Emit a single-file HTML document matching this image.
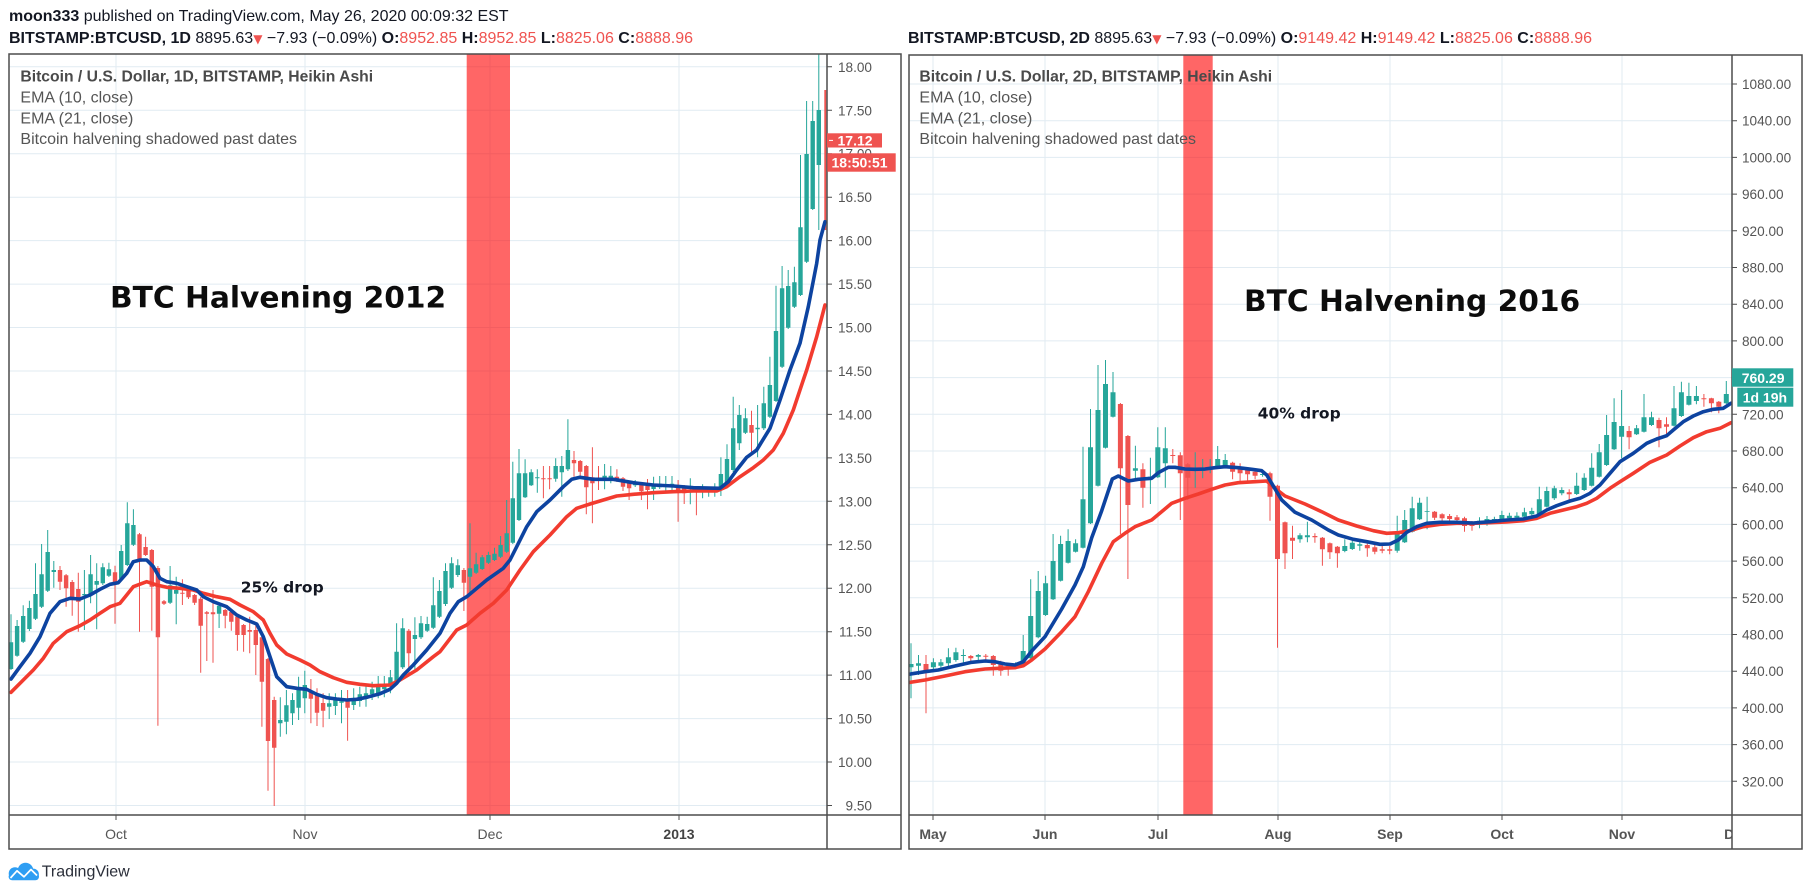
<!DOCTYPE html>
<html><head><meta charset="utf-8"><style>
html,body{margin:0;padding:0;background:#fff;}
body{width:1810px;height:895px;overflow:hidden;position:relative;}
svg{position:absolute;left:0;top:0;}
text{font-family:"Liberation Sans",Arial,sans-serif;}
</style></head><body>
<svg width="1810" height="895" viewBox="0 0 1810 895" xmlns="http://www.w3.org/2000/svg">
<defs>
<clipPath id="cl"><rect x="9.5" y="54.5" width="817" height="760.5"/></clipPath>
<clipPath id="cr"><rect x="909.5" y="55.5" width="822" height="759.5"/></clipPath>
<clipPath id="tr"><rect x="909" y="815" width="823" height="34"/></clipPath>
</defs>
<rect width="1810" height="895" fill="#fff"/>

<!-- header -->
<text x="9" y="21" font-size="16" fill="#131722"><tspan font-weight="bold">moon333</tspan> published on TradingView.com, May 26, 2020 00:09:32 EST</text>
<text x="9" y="43" font-size="16" fill="#131722"><tspan font-weight="bold">BITSTAMP:BTCUSD, 1D</tspan> 8895.63<tspan fill="#ef5350" font-family="DejaVu Sans" font-size="12">▼</tspan> −7.93 (−0.09%) <tspan font-weight="bold">O:</tspan><tspan fill="#ef5350">8952.85</tspan> <tspan font-weight="bold">H:</tspan><tspan fill="#ef5350">8952.85</tspan> <tspan font-weight="bold">L:</tspan><tspan fill="#ef5350">8825.06</tspan> <tspan font-weight="bold">C:</tspan><tspan fill="#ef5350">8888.96</tspan></text>
<text x="908" y="43" font-size="16" fill="#131722"><tspan font-weight="bold">BITSTAMP:BTCUSD, 2D</tspan> 8895.63<tspan fill="#ef5350" font-family="DejaVu Sans" font-size="12">▼</tspan> −7.93 (−0.09%) <tspan font-weight="bold">O:</tspan><tspan fill="#ef5350">9149.42</tspan> <tspan font-weight="bold">H:</tspan><tspan fill="#ef5350">9149.42</tspan> <tspan font-weight="bold">L:</tspan><tspan fill="#ef5350">8825.06</tspan> <tspan font-weight="bold">C:</tspan><tspan fill="#ef5350">8888.96</tspan></text>

<!-- ===== LEFT CHART ===== -->
<g stroke="#e1ebf2" stroke-width="1" fill="none">
<path d="M9 805.5H827M9 762H827M9 718.6H827M9 675.1H827M9 631.7H827M9 588.2H827M9 544.8H827M9 501.3H827M9 457.9H827M9 414.4H827M9 371H827M9 327.5H827M9 284.1H827M9 240.6H827M9 197.2H827M9 153.7H827M9 110.3H827M9 66.8H827"/>
<path d="M116 54V815M305 54V815M490 54V815M679 54V815"/>
</g>
<rect x="466.7" y="54" width="43.3" height="761" fill="rgb(255,0,0)" fill-opacity="0.6"/>

<g clip-path="url(#cl)" fill="none">
<path stroke="#26a69a" stroke-width="1" d="M11 614.3V670M17.1 620V656.7M23.2 605.3V643M29.4 600.7V631M35.5 563.3V620M41.6 544V608M47.7 530V592M53.8 561V587.7M84.4 570V630M90.6 555V603.3M96.7 563.3V629.3M102.8 563.3V585M108.9 562.7V577M121.2 545V580M127.3 502.3V566M133.4 509.3V546M170.1 566V604M176.2 576.7V624.3M219.1 604V628M280.3 697.3V736.7M286.4 690V734.3M292.5 693.3V725M298.6 676.7V720M304.8 670.7V713.3M329.2 693.3V719M335.4 693.3V715M341.5 690V723.3M353.7 688.3V710M359.8 686.7V706.7M366 685.7V706.7M372.1 681.7V700M378.2 676V698.3M384.3 676V697.3M390.4 670V693.3M396.6 623.3V685M402.7 618.3V669M414.9 617.3V670M421 616V639M427.2 616.7V632M433.3 577.3V629M439.4 580V618M445.5 563.3V606M451.6 557.3V589M457.8 559.3V577M470 523.3V592.7M476.1 552.7V574M482.2 555V570M488.4 551.7V564M494.5 547.7V561M500.6 536V558M506.7 500V553M512.8 461.7V544M519 449V521M525.1 459.3V498M531.2 469.3V486M537.3 469.3V492.7M555.7 458.3V481.7M561.8 456V496.7M567.9 419.3V471M604.6 464V489.3M610.8 466V483.3M635.2 480V487M653.6 476.7V500M659.7 476V489M665.8 476V491.7M672 476V491.7M690.3 478.3V504.3M702.6 484.3V498.3M708.7 487V496.7M714.8 483.3V496.7M720.9 457.3V496M727 444.3V485M733.2 396.7V472M739.3 405V450M745.4 408.3V434M757.6 405V457.3M763.8 386.7V430M769.9 356.7V418M776 285.7V402M782.1 266V368M788.2 270V329M794.4 266.7V308M800.5 155V296M806.6 101V263M812.7 101V210M818.8 50V230"/>
<path stroke="#26a69a" stroke-width="4.4" d="M11 642.3V669M17.1 626V655.7M23.2 616V641.7M29.4 608V629M35.5 594V618.7M41.6 574.3V606.7M47.7 552V590.7M53.8 570V572M84.4 594V595.3M90.6 574.3V595M96.7 581V584.7M102.8 567.3V583.3M108.9 569.3V575.7M121.2 551V578.7M127.3 523.3V565M133.4 525V544.7M170.1 585.3V602.7M176.2 590V593.7M219.1 605.7V613.7M280.3 720V723.3M286.4 705.3V721.7M292.5 700V713.3M298.6 687.3V707.7M304.8 685V698.3M329.2 703.3V706.7M335.4 699.3V706M341.5 701.3V702.7M353.7 698.3V705M359.8 694.3V701M366 693.3V699M372.1 689.3V694.3M378.2 685.7V693.7M384.3 684V689.3M390.4 677.3V686.7M396.6 651.7V683.3M402.7 628.3V667.3M414.9 635V639M421 623.3V637.3M427.2 624V630.7M433.3 605.3V627.7M439.4 591V616.7M445.5 571V604M451.6 563.3V587.7M457.8 565.3V575M470 568.3V576.7M476.1 564.3V572.7M482.2 557.3V569M488.4 555V562.7M494.5 553.7V560M500.6 545V556.7M506.7 533.3V551.7M512.8 498.3V542.7M519 473.3V520M525.1 473.3V497.3M531.2 472.3V485.3M537.3 477.3V478.3M555.7 466V478.7M561.8 466V472.3M567.9 450V469.3M604.6 475.7V480.7M610.8 475.7V480M635.2 483.3V485.3M653.6 485.7V489M659.7 483.7V487.3M665.8 485V486.7M672 483.7V486M690.3 490V491M702.6 489V490.7M708.7 489V490.7M714.8 487.3V490M720.9 474V490M727 459V483.3M733.2 428.3V470M739.3 415V443.3M745.4 418.3V432.7M757.6 427.7V429.3M763.8 403.3V428.3M769.9 385V416.7M776 331V401M782.1 288.3V366.7M788.2 286V327.7M794.4 282.3V306.7M800.5 227.3V295M806.6 154V261.7M812.7 121V209M818.8 110V165"/>
<path stroke="#ef5350" stroke-width="1" d="M60 566V590M66.1 574V606.7M72.2 580V615.7M78.3 572.7V631.7M115 565.7V623.7M139.5 533V631.7M145.6 536.7V556M151.8 549V630.7M157.9 566V725.7M164 600V605M182.4 579.3V605M188.5 590V599M194.6 594V605M200.7 597V672.7M206.8 611V661M213 590V662.7M225.2 609V628.3M231.3 611V630.7M237.4 615V650.7M243.6 624V651.7M249.7 616.7V653.3M255.8 623.3V675M261.9 636V726.7M268 658V790.7M274.2 696.7V806M310.9 679V723.3M317 688.3V726M323.1 693.3V727.3M347.6 690V740.7M408.8 629V672.7M463.9 568V611M543.4 466V498.3M549.6 466V489.3M574 451V476.7M580.2 460V477.3M586.3 465V514.3M592.4 447.3V523.3M598.5 466V490M616.9 469.3V482M623 477V491M629.1 481V500M641.4 483V500M647.5 479V509.3M678.1 480V521.7M684.2 485V504M696.4 487.3V515.3M751.5 410.7V453.3"/>
<path stroke="#ef5350" stroke-width="4.4" d="M60 570V581.7M66.1 575.3V588.3M72.2 582V598M78.3 589V601.7M115 572.3V583.7M139.5 534.3V561.7M145.6 547V555M151.8 550V586.7M157.9 568V637.3M164 601.3V603.7M182.4 592.7V593.7M188.5 591V597.3M194.6 595V602.7M200.7 598.7V625.7M206.8 612.3V613.7M213 612.3V614.3M225.2 610V615.7M231.3 612V621.7M237.4 616.7V635M243.6 625V635M249.7 630V631.7M255.8 630V645M261.9 637.3V681.7M268 659V741M274.2 700V747.7M310.9 690.7V698.7M317 693.7V712.7M323.1 703V710.7M347.6 701V707.7M408.8 630.7V653.3M463.9 570V582.7M543.4 478.3V479.3M549.6 478.3V479.3M574 460V463.3M580.2 461V471.7M586.3 466V487.3M592.4 477.3V483.3M598.5 479.3V480.3M616.9 476.7V480.7M623 478.3V486.7M629.1 482V488.3M641.4 484V491.3M647.5 486V490M678.1 485.3V491M684.2 487.7V493.3M696.4 490V491M751.5 425V432.7"/>
<path stroke="#ef5350" stroke-width="2" d="M825.3 90V230"/>
<polyline stroke="#f23b2f" stroke-width="3.6" stroke-linejoin="round" stroke-linecap="round" points="11,692.3 23.3,680 33.3,670 43.3,658.3 53.3,643.3 66.7,631.7 80,625.7 90,620 100,613.3 110,606.7 120,603.3 126.7,595 133.3,586.7 146.7,581.7 156.7,585 166.7,587.3 180,588.3 193.3,590 203.3,593.3 216.7,596.7 230,599.3 240,605 253.3,611.7 263.3,620 270,633.3 276.7,645 286.7,654 300,660 310,665 320,671.7 333.3,677.7 346.7,682.3 360,684.3 373.3,685.7 390,685 400,680 416.7,670 433.3,656.7 440,651.7 456.7,630 466.7,625 480,613.3 493.3,603.3 506.7,590 520,570 533.3,551.7 550,535 566.7,516.7 576.7,508.3 590,504 603.3,500 616.7,496 633.3,494.3 653.3,492.7 673.3,491.7 693.3,491 716.7,491 726.7,486.7 740,476.7 753.3,467.7 763.3,460 773.3,450 783.3,433.3 793.3,410 803.3,380 806.7,370 816.7,336.7 825,305"/>
<polyline stroke="#0d43a0" stroke-width="3.6" stroke-linejoin="round" stroke-linecap="round" points="11,679 20,666.7 30,653.3 40,636.7 50,613.3 60,601.7 70,598.3 80,599 90,595 100,589.3 110,584.3 118.3,582.7 126.7,573.3 133.3,561.7 140,560 146.7,560 153.3,566.7 160,578.3 166.7,581.7 176.7,583.3 186.7,586.7 196.7,590 203.3,596.7 213.3,601.7 226.7,606.7 236.7,615 246.7,620 256.7,624 263.3,636.7 270,656.7 276.7,676.7 286.7,686.7 296.7,688.3 306.7,689.3 316.7,694.3 326.7,697.7 336.7,699 346.7,700 356.7,699.3 366.7,697.3 380,693.7 390,689.3 396.7,683.3 403.3,675 413.3,665 426.7,650 440,633.3 450,613.3 458.3,601.7 466.7,596.7 486.7,580 503.3,568.3 510,560 516.7,546.7 526.7,526.7 536.7,511.7 550,500 563.3,486.7 571.7,479.3 580,477.3 593.3,479.3 613.3,479.3 633.3,482.7 653.3,485 673.3,486 693.3,487.7 720,488.3 728.3,481.7 736.7,470 746.7,457.3 756.7,450 770,428.3 780,400 790,370 800,343.3 808.3,306.7 816.7,263.3 820,240 825,221.7"/>
</g>

<!-- left legend & texts -->
<text x="20.4" y="81.7" font-size="15.7" font-weight="bold" fill="#4a4a4a">Bitcoin / U.S. Dollar, 1D, BITSTAMP, Heikin Ashi</text>
<text x="20.4" y="102.7" font-size="16" fill="#555">EMA (10, close)</text>
<text x="20.4" y="123.4" font-size="16" fill="#555">EMA (21, close)</text>
<text x="20.4" y="144.1" font-size="16" fill="#555">Bitcoin halvening shadowed past dates</text>
<text x="110" y="307.7" font-family="DejaVu Sans" font-weight="bold" font-size="29.7" fill="#0c0c0c" style="font-family:'DejaVu Sans',sans-serif">BTC Halvening 2012</text>
<text x="240.7" y="592.3" font-weight="bold" font-size="15.5" fill="#131722" style="font-family:'DejaVu Sans',sans-serif">25% drop</text>

<!-- left frame -->
<g stroke="#4d4d4d" stroke-width="1.5" fill="none">
<rect x="9" y="54" width="892" height="795"/>
<path d="M827 54V849M9 815H901"/>
</g>
<g stroke="#4d4d4d" stroke-width="1">
<path d="M827 805.5h5M827 762h5M827 718.6h5M827 675.1h5M827 631.7h5M827 588.2h5M827 544.8h5M827 501.3h5M827 457.9h5M827 414.4h5M827 371h5M827 327.5h5M827 284.1h5M827 240.6h5M827 197.2h5M827 153.7h5M827 110.3h5M827 66.8h5"/>
<path d="M116 815v5M305 815v5M490 815v5M679 815v5"/>
</g>
<g font-size="13.6" fill="#555" text-anchor="end">
<text x="872" y="71.8">18.00</text><text x="872" y="115.3">17.50</text><text x="872" y="158.7">17.00</text><text x="872" y="202.2">16.50</text><text x="872" y="245.6">16.00</text><text x="872" y="289.1">15.50</text><text x="872" y="332.5">15.00</text><text x="872" y="376">14.50</text><text x="872" y="419.4">14.00</text><text x="872" y="462.9">13.50</text><text x="872" y="506.3">13.00</text><text x="872" y="549.8">12.50</text><text x="872" y="593.2">12.00</text><text x="872" y="636.7">11.50</text><text x="872" y="680.1">11.00</text><text x="872" y="723.6">10.50</text><text x="872" y="767">10.00</text><text x="872" y="810.5">9.50</text>
</g>
<g font-size="14" fill="#555" text-anchor="middle">
<text x="116" y="839">Oct</text><text x="305" y="839">Nov</text><text x="490" y="839">Dec</text><text x="679" y="839" font-weight="bold" fill="#444">2013</text>
</g>
<rect x="827" y="133.3" width="55" height="14.2" fill="#ef5350"/>
<path d="M829 140.4h4" stroke="#fff" stroke-width="1"/>
<text x="837.5" y="145.6" font-size="14" font-weight="bold" fill="#fff">17.12</text>
<rect x="827.3" y="153.3" width="68.4" height="18.4" fill="#ef5350"/>
<text x="831.5" y="167.3" font-size="14" font-weight="bold" fill="#fff">18:50:51</text>

<!-- ===== RIGHT CHART ===== -->
<g stroke="#e1ebf2" stroke-width="1" fill="none">
<path d="M909 84H1732M909 120.7H1732M909 157.4H1732M909 194.1H1732M909 230.8H1732M909 267.5H1732M909 304.2H1732M909 340.9H1732M909 377.6H1732M909 414.3H1732M909 451H1732M909 487.7H1732M909 524.4H1732M909 561.1H1732M909 597.8H1732M909 634.5H1732M909 671.2H1732M909 707.9H1732M909 744.6H1732M909 781.3H1732"/>
<path d="M933 55V815M1045 55V815M1158 55V815M1278 55V815M1390 55V815M1502 55V815M1622 55V815"/>
</g>
<rect x="1183.3" y="55" width="29.4" height="760" fill="rgb(255,0,0)" fill-opacity="0.6"/>

<g clip-path="url(#cr)" fill="none">
<path stroke="#26a69a" stroke-width="1" d="M911 643.3V698.3M918.5 655V675M933.4 658.3V670M940.9 659V668.3M948.4 648.3V666.7M955.9 647.7V661.7M963.4 649.3V665M978.3 654V660M1015.7 662.3V669M1023.2 635V666.7M1030.7 579.3V660M1038.2 571V638.3M1045.6 575.7V616M1053.1 534V600M1060.6 535.7V581.5M1068.1 529.3V563.5M1075.6 539.3V552.5M1083 446.7V548.5M1090.5 409V524M1098 365V486.5M1105.5 360V448.5M1113 372V417.5M1135.4 445.7V481M1150.4 457.7V504M1157.8 427.3V478M1165.3 427.3V487.7M1195.2 452.3V487.7M1202.7 459V478.3M1210.2 459V473.3M1217.7 446V469M1225.2 454V467M1262.6 470V476.7M1300 533.3V542.7M1307.4 521.7V542.3M1344.8 539.3V552.3M1352.3 539V550M1359.8 540V550.7M1397.2 515.7V552.7M1404.7 510V543M1412.2 496.7V532.5M1419.6 497.7V520M1427.1 496.7V529.3M1479.5 517.3V528.3M1487 516V525.7M1494.4 516.7V523.3M1501.9 510.7V521.7M1509.4 512.7V520M1516.9 512.3V520M1524.4 507.7V518.3M1531.8 507.7V516M1539.3 486.7V515M1546.8 486.7V507.5M1554.3 485.7V500M1561.8 487.3V495.3M1576.7 472.7V495M1584.2 473.3V491M1591.7 453.3V486.5M1599.2 444V477.5M1606.6 415V466M1614.1 398.3V450M1621.6 390V458.3M1636.6 425V435M1644 394V432.5M1651.5 411.7V426M1674 386V426.5M1681.4 381.7V417M1688.9 382.7V405.5M1696.4 386V404.3M1726.3 381V404"/>
<path stroke="#26a69a" stroke-width="5" d="M911 664V667.3M918.5 663.3V665.7M933.4 662.3V667.3M940.9 662.3V665.7M948.4 657.3V663.3M955.9 652.3V660M963.4 655V656M978.3 655V656.7M1015.7 664.3V668.3M1023.2 651V665.7M1030.7 616V658.3M1038.2 591V637.3M1045.6 583.3V615M1053.1 561V599.3M1060.6 544V580.7M1068.1 541V562.7M1075.6 543.3V551.7M1083 499.3V547.7M1090.5 447.3V523.3M1098 410V485.7M1105.5 384V447.7M1113 392.3V416.7M1135.4 468.3V470.7M1150.4 476.7V477.7M1157.8 447.3V477.3M1165.3 448.3V463.3M1195.2 468.3V469.3M1202.7 468.3V471M1210.2 467.3V469M1217.7 459V468.3M1225.2 460V466M1262.6 474V475M1300 535.3V539.3M1307.4 535.3V537.3M1344.8 546V551M1352.3 542.7V549M1359.8 544.3V545.7M1397.2 533.3V550.7M1404.7 520V542.3M1412.2 508.3V531.7M1419.6 502.7V519.3M1427.1 511V511.7M1479.5 520.7V524.3M1487 519V523.3M1494.4 519V521.7M1501.9 515V520M1509.4 515.7V518.3M1516.9 515.7V517.7M1524.4 512.3V516.7M1531.8 511V514.3M1539.3 499.3V514M1546.8 491V506.7M1554.3 488.3V498.3M1561.8 490V493.3M1576.7 485.7V494M1584.2 477.7V490M1591.7 467.7V485.7M1599.2 452.3V476.7M1606.6 435V465M1614.1 422V449.3M1621.6 426V436.7M1636.6 428.3V434.3M1644 417.3V431.7M1651.5 417.3V425M1674 408.3V425.7M1681.4 392.3V416M1688.9 396V404.7M1696.4 396V401M1726.3 394V403.3"/>
<path stroke="#ef5350" stroke-width="1" d="M926 655V713.3M970.8 655V662.3M985.8 654V660M993.3 655V675.7M1000.8 660.7V675.7M1008.2 663.3V675.7M1120.4 403V534.3M1127.9 435V579M1142.9 463.3V507.7M1172.8 449V463.3M1180.3 452.3V520M1187.8 463V500M1232.6 461.7V479.3M1240.1 463.3V481.7M1247.6 467.3V481M1255.1 468.3V479.3M1270 471.7V520.7M1277.5 484.7V647.7M1285 521.5V569M1292.5 525.7V559M1314.9 533.3V542.7M1322.4 537V565.7M1329.9 542.5V559M1337.4 546V567.7M1367.3 540V556.7M1374.8 545V554.3M1382.2 546V553.3M1389.7 546V554.3M1434.6 511V520M1442.1 513.3V523.3M1449.6 514V523.3M1457 515V525M1464.5 516.7V531.7M1472 521V530.7M1569.2 489.3V501M1629.1 426V449.3M1659 417.7V447.3M1666.5 417.3V436.7M1703.9 394V406.7M1711.4 397.7V412.3M1718.8 401V413.3"/>
<path stroke="#ef5350" stroke-width="5" d="M926 664V670.7M970.8 656V658.3M985.8 655.7V656.7M993.3 656V665M1000.8 661.7V670.7M1008.2 665.7V667.3M1120.4 404V468.3M1127.9 436V505M1142.9 469.3V487.7M1172.8 455V456M1180.3 455.3V473.3M1187.8 464.3V477.7M1232.6 462.7V471.7M1240.1 466.7V473.3M1247.6 469.3V474.3M1255.1 471.7V475.7M1270 473.3V496.7M1277.5 485.7V559M1285 522.3V553.3M1292.5 537.7V540.7M1314.9 536V537.3M1322.4 537.7V549.3M1329.9 543.3V552.3M1337.4 546.7V553.3M1367.3 545V548.3M1374.8 547.3V551.7M1382.2 549.3V550.7M1389.7 549.3V550.7M1434.6 511.7V517.7M1442.1 514.3V518.3M1449.6 516V519M1457 517.3V520M1464.5 518.3V526M1472 521.7V526M1569.2 492.3V494.3M1629.1 431V437.3M1659 420V428.3M1666.5 424.3V426.7M1703.9 398.3V399.3M1711.4 398.3V403.3M1718.8 401.7V406.7"/>
<polyline stroke="#f23b2f" stroke-width="3.6" stroke-linejoin="round" stroke-linecap="round" points="909,682.5 925,680 945,676 965,671.7 985,669 998.3,668.3 1015,667.7 1023.3,665.7 1031.7,660 1045,649 1061.7,631.7 1075,616.7 1088.3,591.7 1101.7,563.3 1113.3,541.7 1125,533.3 1135,526.7 1151.7,520 1171.7,503.3 1185,498.3 1198.3,494 1211.7,489.3 1225,485 1238.3,482.7 1255,481.7 1266.7,481 1275,488.3 1285,496 1305,504 1321.7,511.7 1338.3,520 1356.7,526 1373.3,530.7 1386.7,533.3 1398.3,532.7 1410,530.7 1423.3,526.7 1440,524.3 1456.7,523.3 1473.3,523.3 1490,522.7 1506.7,522 1523.3,520.7 1536.7,518.3 1550,513.3 1563.3,510 1576.7,506.7 1586.7,503.3 1596.7,498.3 1610,488.3 1620,481.7 1633.3,473.3 1650,462.3 1666.7,455 1680,446 1693.3,437.7 1706.7,431.7 1720,428.3 1731,422.7"/>
<polyline stroke="#0d43a0" stroke-width="3.6" stroke-linejoin="round" stroke-linecap="round" points="909,674.3 925,671.7 938.3,670 955,666 971.7,662.3 985,661 995,661.7 1005,664 1015,665 1023.3,661.7 1031.7,651 1045,636.7 1061.7,609 1075,585 1083.3,566.7 1091.7,537.7 1101.7,510.7 1112.3,479 1118.3,476 1128.3,481 1138.3,479.3 1151.7,478.3 1158.3,472.7 1168.3,467.3 1175,467.3 1185,469 1195,469.3 1205,469 1215,467.7 1225,466.7 1238.3,467.7 1251.7,469.3 1261.7,470.7 1266.7,475 1271.7,483.3 1281.7,500 1295,512.3 1311.7,520 1328.3,530 1338.3,535 1353.3,539.3 1366.7,541.7 1380,544.3 1390,544 1398.3,540 1406.7,532.3 1416.7,526.7 1426.7,523.3 1440,522.3 1456.7,522.3 1473.3,523 1490,521.7 1506.7,520 1523.3,519 1536.7,516 1546.7,510 1556.7,505.7 1570,501 1580,498.3 1590,493.3 1600,485 1610,473.3 1620,461.7 1633.3,453.3 1646.7,443.3 1656.7,439 1666.7,435.7 1673.3,430 1683.3,421.7 1693.3,416 1703.3,411.7 1713.3,409.3 1723.3,408.3 1731,403.3"/>
</g>

<!-- right legend & texts -->
<text x="919.4" y="81.7" font-size="15.7" font-weight="bold" fill="#4a4a4a">Bitcoin / U.S. Dollar, 2D, BITSTAMP, Heikin Ashi</text>
<text x="919.4" y="102.7" font-size="16" fill="#555">EMA (10, close)</text>
<text x="919.4" y="123.4" font-size="16" fill="#555">EMA (21, close)</text>
<text x="919.4" y="144.1" font-size="16" fill="#555">Bitcoin halvening shadowed past dates</text>
<text x="1244" y="311" font-weight="bold" font-size="29.7" fill="#0c0c0c" style="font-family:'DejaVu Sans',sans-serif">BTC Halvening 2016</text>
<text x="1257.7" y="418.5" font-weight="bold" font-size="15.5" fill="#131722" style="font-family:'DejaVu Sans',sans-serif">40% drop</text>

<!-- right frame -->
<g stroke="#4d4d4d" stroke-width="1.5" fill="none">
<rect x="909" y="55" width="893" height="794"/>
<path d="M1732 55V849M909 815H1802"/>
</g>
<g stroke="#4d4d4d" stroke-width="1">
<path d="M1732 84h5M1732 120.7h5M1732 157.4h5M1732 194.1h5M1732 230.8h5M1732 267.5h5M1732 304.2h5M1732 340.9h5M1732 377.6h5M1732 414.3h5M1732 451h5M1732 487.7h5M1732 524.4h5M1732 561.1h5M1732 597.8h5M1732 634.5h5M1732 671.2h5M1732 707.9h5M1732 744.6h5M1732 781.3h5"/>
<path d="M933 815v5M1045 815v5M1158 815v5M1278 815v5M1390 815v5M1502 815v5M1622 815v5"/>
</g>
<g font-size="13.6" fill="#555">
<text x="1742" y="89">1080.00</text><text x="1742" y="125.7">1040.00</text><text x="1742" y="162.4">1000.00</text><text x="1742" y="199.1">960.00</text><text x="1742" y="235.8">920.00</text><text x="1742" y="272.5">880.00</text><text x="1742" y="309.2">840.00</text><text x="1742" y="345.9">800.00</text><text x="1742" y="419.3">720.00</text><text x="1742" y="456">680.00</text><text x="1742" y="492.7">640.00</text><text x="1742" y="529.4">600.00</text><text x="1742" y="566.1">560.00</text><text x="1742" y="602.8">520.00</text><text x="1742" y="639.5">480.00</text><text x="1742" y="676.2">440.00</text><text x="1742" y="712.9">400.00</text><text x="1742" y="749.6">360.00</text><text x="1742" y="786.3">320.00</text>
</g>
<g font-size="14" font-weight="bold" fill="#555" text-anchor="middle" clip-path="url(#tr)">
<text x="933" y="839">May</text><text x="1045" y="839">Jun</text><text x="1158" y="839">Jul</text><text x="1278" y="839">Aug</text><text x="1390" y="839">Sep</text><text x="1502" y="839">Oct</text><text x="1622" y="839">Nov</text><text x="1737" y="839">Dec</text>
</g>
<rect x="1732" y="368.3" width="61.3" height="18.4" fill="#26a69a"/>
<text x="1741.7" y="382.8" font-size="14" font-weight="bold" fill="#fff">760.29</text>
<rect x="1737.3" y="387.7" width="56" height="19" fill="#26a69a"/>
<text x="1742.7" y="402.3" font-size="14" font-weight="bold" fill="#fff">1d 19h</text>

<!-- TradingView logo -->
<g fill="#2e9ef3">
<circle cx="15" cy="873.5" r="6.3"/>
<circle cx="25.5" cy="870.5" r="7.8"/>
<circle cx="33.2" cy="874.3" r="5.7"/>
<rect x="8.6" y="873" width="30.4" height="7.3" rx="3.6"/>
</g>
<polyline points="10.5,878 17,870.8 24,876.8 31,869.5 37,875.5" fill="none" stroke="#fff" stroke-width="1.7" stroke-linejoin="round"/>
<text x="41.7" y="876.7" font-size="16" fill="#2a2e39">TradingView</text>
</svg>
</body></html>
